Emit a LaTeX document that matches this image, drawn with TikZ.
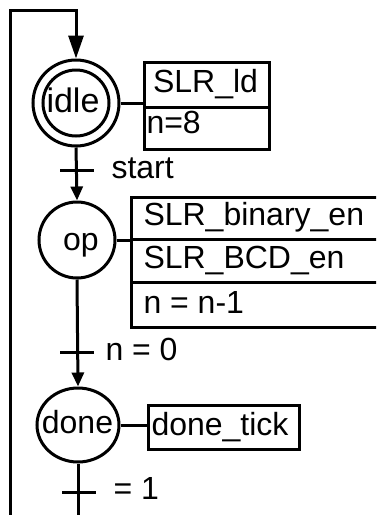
\documentclass[tikz,border=0pt]{standalone}
\usepackage{fontspec}
\setmainfont{Liberation Sans}
\usetikzlibrary{shapes.geometric,arrows.meta}
\begin{document}
\begin{tikzpicture}[x=1pt,y=-1pt, line width=3pt,
  txt/.style={inner sep=0pt, anchor=base west, font=\fontsize{32}{38}\selectfont},
  ctxt/.style={txt, anchor=base},
  state/.style={draw, circle, inner sep=0pt},
  actbox/.style={draw, rectangle, inner sep=0pt, anchor=north west},
  arr/.style={-{Triangle[length=14pt,width=12pt]}},
  arrtop/.style={-{Triangle[length=23pt,width=15pt]}},
  ]
\useasboundingbox (0,0) rectangle (376,515);
\clip (0,0) rectangle (376,515);

% idle state
\node[state, minimum size=86pt] (idle) at (76,103) {};
\node[state, minimum size=66pt] (idlein) at (76,103) {};
\node[ctxt, font=\fontsize{34}{40}\selectfont] (idlet) at (73,112) {idle};

\node[actbox, minimum width=125pt, minimum height=87pt] (ldbox) at (143,61) {};
\draw (143,107) -- (268,107);
\node[ctxt] (ldt) at (205.5,92) {SLR\_ld};
\node[txt] (n8) at (145,133) {n=8};
\draw (idle.east) -- (idle.east -| ldbox.west);

% op state
\node[state, minimum size=76pt] (op) at (77,240) {};
\node[ctxt] (opt) at (81,250) {op};

\node[actbox, minimum width=280pt, minimum height=130pt] (opbox) at (130,196) {};
\draw (130,239) -- (410,239);
\draw (130,282) -- (410,282);
\node[txt] (o1) at (142,225) {SLR\_binary\_en};
\node[txt] (o2) at (142,268) {SLR\_BCD\_en};
\node[txt] (o3) at (142,313) {n = n-1};
\draw (op.east) -- (op.east -| opbox.west);

% done state
\node[draw, ellipse, inner sep=0pt, minimum width=82pt, minimum height=74pt] (done) at (78,425) {};
\node[ctxt] (donet) at (77.5,433) {done};

\node[actbox, minimum width=151pt, minimum height=44pt] (donebox) at (147,404) {};
\node[txt] (dt) at (150,435) {done\_tick};
\draw (done.east) -- (done.east -| donebox.west);

% transitions
\draw[arr] (idle.south) -- (op.north);
\coordinate (t1) at (77,170);
\draw ([xshift=-17pt]t1) -- ([xshift=17pt]t1);
\node[txt] (l1) at (110,178) {start};

\draw[arr] (op.south) -- (done.north);
\coordinate (t2) at (77,352);
\draw ([xshift=-17pt]t2) -- ([xshift=17pt]t2);
\node[txt] (l2) at (104,360) {n = 0};

\coordinate (bot) at (78,525);
\draw (done.south) -- (bot);
\coordinate (t3) at (78,492);
\draw ([xshift=-16pt]t3) -- ([xshift=18pt]t3);
\node[txt] (l3) at (112,499) {= 1};

% loop back
\coordinate (lb) at (10,525);
\coordinate (lt) at (10,10);
\draw[arrtop] (lb) -- (lt) -| (idle.north);
\end{tikzpicture}
\end{document}
